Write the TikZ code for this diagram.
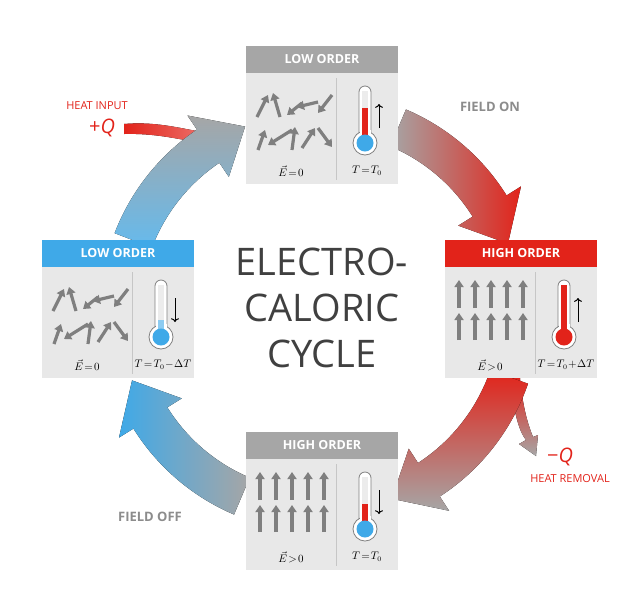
\documentclass[tikz,border=0pt]{standalone}
\usepackage{fontspec}
\setmainfont{Open Sans}
\usetikzlibrary{arrows.meta}
\definecolor{cred}{HTML}{E2231A}
\definecolor{cblue}{HTML}{3FA9E8}
\definecolor{cgray}{HTML}{A6A6A6}
\definecolor{pbg}{HTML}{E8E8E8}
\definecolor{sgray}{HTML}{7F7F7F}
\definecolor{tgray}{HTML}{8C8C8C}
\tikzset{
 hdr/.style={text=white,font=\bfseries\fontsize{12.5}{14}\selectfont},
 spin/.style={draw=sgray,line width=3.2pt,-{Triangle[length=7pt,width=9pt]}},
 lab/.style={font=\fontsize{10.5}{12}\selectfont,inner sep=0pt},
 tarrow/.style={draw=black,line width=1pt,-{Triangle[length=5pt,width=4pt]}},
}
\newcommand\panelbase[5]{%
 \fill[pbg] (0,27) rectangle (152,138);
 \fill[#1] (0,0) rectangle (152,27);
 \node[hdr] (#5h) at (76,13.5) {#2};
 \draw[gray!45] (90,32)--(90,134);
 \node[lab] (#5e) at (45,125) {#3};
 \node[lab] (#5t) at (121,125) {#4};}
\newcommand\thermo[4]{%
 \draw[gray,line width=0.8pt,fill=white,rounded corners=6pt] (113,88) -- (113,40) -- (125,40) -- (125,88);
 \draw[gray,line width=0.8pt,fill=white] (119,97) circle[radius=12];
 \fill[white] (113.5,84) rectangle (124.5,92);
 \fill[gray!15] (116,45) rectangle (122,92);
 \fill[#2] (116,#1) rectangle (122,92);
 \fill[#3] (119,97) circle[radius=8.5];
 \draw[tarrow,#4] (133,82) -- (133,58);}
\newcommand\lowspins{%
 \foreach \a/\b/\c/\d in {11/71/22/49,34/71/27/47,56/57/41/69,72/56/51/61,86/49/72/67,12/104/19/84,46/84/22/99,46/104/49/81,56/102/69/82,72/82/86/101}
  \draw[spin] (\a,\b) -- (\c,\d);}
\newcommand\highspins{%
 \foreach \x in {14,30,46,62,78}{\draw[spin] (\x,68) -- (\x,40); \draw[spin] (\x,100) -- (\x,73);}}
\newcommand\band[5]{% start, headbase, tip, shading options, name
 \fill[#4] (#1:220) arc[start angle=#1,end angle=#2,radius=220] -- (#2:237) -- (#3:200) -- (#2:163) -- (#2:180) arc[start angle=#2,end angle=#1,radius=180] -- cycle;
 \coordinate (#5) at (#3:200);}
\begin{document}
\begin{tikzpicture}[x=1pt,y=-1pt]
\useasboundingbox (0,0) rectangle (640,606);
% heat input
\fill[left color=cred,right color=cred!60!white] (124,124) .. controls (160,121) and (185,130) .. (215,134) -- (213,145) .. controls (185,141) and (160,133) .. (124,134) -- cycle;
% heat removal
\fill[top color=cred,bottom color=cgray] (509,378) .. controls (514,410) and (518,430) .. (526,440) -- (519,444) -- (536,456) -- (538,435) -- (533,437) .. controls (526,420) and (522,400) .. (520,378) -- cycle;
\begin{scope}[shift={(320,312)}]
 \band{-67}{-32}{-20}{left color=cgray,right color=cred}{a1}
 \band{19}{57}{69}{top color=cred,bottom color=cgray}{a2}
 \band{113}{148}{160}{left color=cblue,right color=cgray}{a3}
 \band{201}{236}{248}{top color=cgray,bottom color=cblue!80!white}{a4}
\end{scope}
\begin{scope}[shift={(246,46)}]
 \panelbase{cgray}{LOW ORDER}{$\vec{E}\!=\!0$}{$T\!=\!T_0$}{p1}
 \lowspins \thermo{62}{cred}{cblue}{->}
\end{scope}
\begin{scope}[shift={(445,240)}]
 \panelbase{cred}{HIGH ORDER}{$\vec{E}\!>\!0$}{$T\!=\!T_0\!+\!\Delta T$}{p2}
 \highspins \thermo{45}{cred}{cred}{->}
\end{scope}
\begin{scope}[shift={(246,432)}]
 \panelbase{cgray}{HIGH ORDER}{$\vec{E}\!>\!0$}{$T\!=\!T_0$}{p3}
 \highspins \thermo{72}{cred}{cblue}{<-}
\end{scope}
\begin{scope}[shift={(42,240)}]
 \panelbase{cblue}{LOW ORDER}{$\vec{E}\!=\!0$}{$T\!=\!T_0\!-\!\Delta T$}{p4}
 \lowspins \thermo{80}{cblue!60}{cblue}{<-}
\end{scope}
\node[align=center,text=black!75,font=\fontsize{38}{46}\selectfont] (title) at (322,308) {ELECTRO-\\CALORIC\\CYCLE};
\node[text=tgray,font=\bfseries\fontsize{13}{15}\selectfont] (fon) at (490,107) {FIELD ON};
\node[text=tgray,font=\bfseries\fontsize{13}{15}\selectfont] (foff) at (150,517) {FIELD OFF};
\node[text=cred,font=\fontsize{11}{13}\selectfont] (hin) at (97,106) {HEAT INPUT};
\node[text=cred,font=\fontsize{20}{22}\selectfont] (qin) at (102,128) {+\textit{Q}};
\node[text=cred,font=\fontsize{20}{22}\selectfont] (qout) at (560,457) {−\textit{Q}};
\node[text=cred,font=\fontsize{11}{13}\selectfont] (hout) at (570,479) {HEAT REMOVAL};
\end{tikzpicture}
\end{document}
